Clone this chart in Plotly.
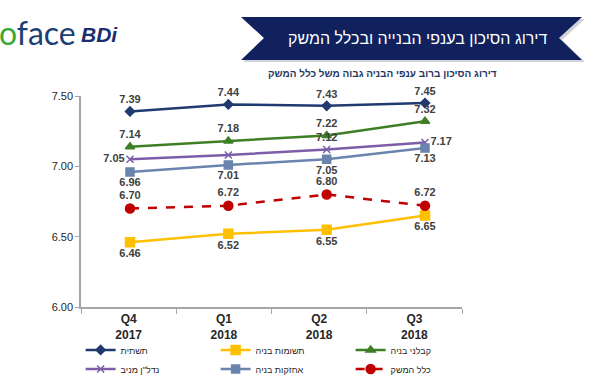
import plotly.graph_objects as go

categories = ["Q4<br>2017", "Q1<br>2018", "Q2<br>2018", "Q3<br>2018"]

infra = [7.39, 7.44, 7.43, 7.45]          # תשתית
inputs = [6.46, 6.52, 6.55, 6.65]         # תשומות בניה
contractors = [7.14, 7.18, 7.22, 7.32]    # קבלני בניה
realestate = [7.05, 7.08, 7.12, 7.17]     # נדל"ן מניב
holdings = [6.96, 7.01, 7.05, 7.13]       # אחזקות בניה
economy = [6.70, 6.72, 6.80, 6.72]        # כלל המשק

yticks = [6.00, 6.50, 7.00, 7.50]

W, H = 602, 389
L, R, T, B = 81, 462, 96, 307


def px(x):
    return (x - L) / (R - L)


def py(y):
    return (B - y) / (B - T)


LABEL_FONT = dict(family="Liberation Sans, Arial, DejaVu Sans", size=11, color="#404040")


def lbl(vals, skip=()):
    return ["<b>%.2f</b>" % v if i not in skip else "" for i, v in enumerate(vals)]


series = [
    dict(name="תשתית", y=infra, color="#1F3A6E", symbol="diamond", size=7,
         pos="top center", dash="solid", skip=()),
    dict(name="תשומות בניה", y=inputs, color="#FFC000", symbol="square", size=9,
         pos="bottom center", dash="solid", skip=()),
    dict(name="קבלני בניה", y=contractors, color="#3E7F25", symbol="triangle-up", size=8,
         pos="top center", dash="solid", skip=()),
    dict(name='נדל"ן מניב', y=realestate, color="#7B5EA7", symbol="x-thin-open", size=7,
         pos=["middle left", "top center", "top center", "middle right"], dash="solid", skip=(1,)),
    dict(name="אחזקות בניה", y=holdings, color="#6A84AE", symbol="square", size=8,
         pos="bottom center", dash="solid", skip=()),
    dict(name="כלל המשק", y=economy, color="#C00000", symbol="circle", size=9,
         pos="top center", dash="dash", skip=()),
]

fig = go.Figure()

# invisible trace to hold the category axis with the tick labels
fig.add_trace(go.Scatter(x=categories, y=[6.0] * 4, mode="markers",
                         marker=dict(opacity=0), showlegend=False, hoverinfo="skip"))

for s in series:
    fig.add_trace(go.Scatter(
        x=categories, y=s["y"], name=s["name"], xaxis="x2",
        mode="lines+markers+text",
        line=dict(color=s["color"], width=2.5, dash=s["dash"]),
        marker=dict(symbol=s["symbol"], size=s["size"], color=s["color"],
                    line=dict(color=s["color"], width=1.5)),
        text=lbl(s["y"], s["skip"]), textposition=s["pos"],
        textfont=LABEL_FONT, cliponaxis=False,
    ))

# point positions (pixels) differ slightly from the axis category centres
p0, p3 = 130, 425
step = (p3 - p0) / 3
x2range = [(L - p0) / step, (R - p0) / step]

shapes = [
    # banner shadow
    dict(type="path", xref="paper", yref="paper", layer="below",
         path="M%f,%f L%f,%f L%f,%f L%f,%f L%f,%f L%f,%f Z" % (
             px(243), py(19), px(585), py(19), px(562), py(40),
             px(585), py(62), px(243), py(62), px(266), py(40)),
         fillcolor="#D0D3DA", line=dict(width=0)),
    dict(type="path", xref="paper", yref="paper",
         path="M%f,%f L%f,%f L%f,%f L%f,%f L%f,%f L%f,%f Z" % (
             px(241), py(17), px(582), py(17), px(559), py(38),
             px(582), py(60), px(241), py(60), px(264), py(38)),
         fillcolor="#10215E", line=dict(width=0)),
]

annotations = [
    dict(text="דירוג הסיכון בענפי הבנייה ובכלל המשק", x=px(418), y=py(38),
         xref="paper", yref="paper", showarrow=False, xanchor="center", yanchor="middle",
         font=dict(family="Liberation Sans, Arial, DejaVu Sans", size=16, color="white")),
    dict(text="<b>דירוג הסיכון ברוב ענפי הבניה גבוה משל כלל המשק</b>", x=px(499), y=py(73),
         xref="paper", yref="paper", showarrow=False, xanchor="right", yanchor="middle",
         font=dict(family="Liberation Sans, Arial, DejaVu Sans", size=10, color="#1F3864")),
    dict(text="<span style='color:#3AAA35'>o</span>face", x=px(-3), y=py(32),
         xref="paper", yref="paper", showarrow=False, xanchor="left", yanchor="middle",
         font=dict(family="Lato, Liberation Sans", size=32, color="#1B3F73")),
    dict(text="<b><i>BDi</i></b>", x=px(79), y=py(34),
         xref="paper", yref="paper", showarrow=False, xanchor="left", yanchor="middle",
         font=dict(family="Liberation Sans, Arial", size=21, color="#1B2F6E")),
]

fig.update_layout(
    width=W, height=H,
    margin=dict(l=L, r=W - R, t=T, b=H - B, pad=0, autoexpand=False),
    paper_bgcolor="white", plot_bgcolor="white",
    font=dict(family="Liberation Sans, Arial, DejaVu Sans", color="#262626"),
    showlegend=True,
    legend=dict(orientation="h", x=-0.001, xanchor="left", y=-0.135, yanchor="top",
                entrywidth=90, font=dict(size=9, color="#262626"),
                traceorder="normal", bgcolor="rgba(0,0,0,0)", itemwidth=30,
                tracegroupgap=0, itemclick=False, itemdoubleclick=False),
    xaxis=dict(type="category", categoryarray=categories, range=[-0.5, 3.5],
               showline=True, linecolor="#A6A6A6", linewidth=1.5,
               ticks="outside", tickson="boundaries", ticklen=5, tickcolor="#A6A6A6",
               showgrid=False, zeroline=False, fixedrange=True,
               tickfont=dict(size=12, color="#262626", family="Liberation Sans, Arial"),
               tickprefix="<b>", ticksuffix="</b>"),
    xaxis2=dict(type="category", categoryarray=categories, range=x2range,
                overlaying="x", visible=False, fixedrange=True),
    yaxis=dict(range=[6.0, 7.5], tickvals=yticks, tickformat=".2f",
               showline=True, linecolor="#A6A6A6", linewidth=1.5,
               ticks="outside", ticklen=4, tickcolor="#A6A6A6",
               showgrid=False, zeroline=False, fixedrange=True,
               tickprefix="<b>", ticksuffix="</b>",
               tickfont=dict(size=11, color="#262626", family="Liberation Sans, Arial")),
    shapes=shapes, annotations=annotations,
)

fig.write_html("out.html", config={"displayModeBar": False},
               post_script="document.body.style.margin='0';")
